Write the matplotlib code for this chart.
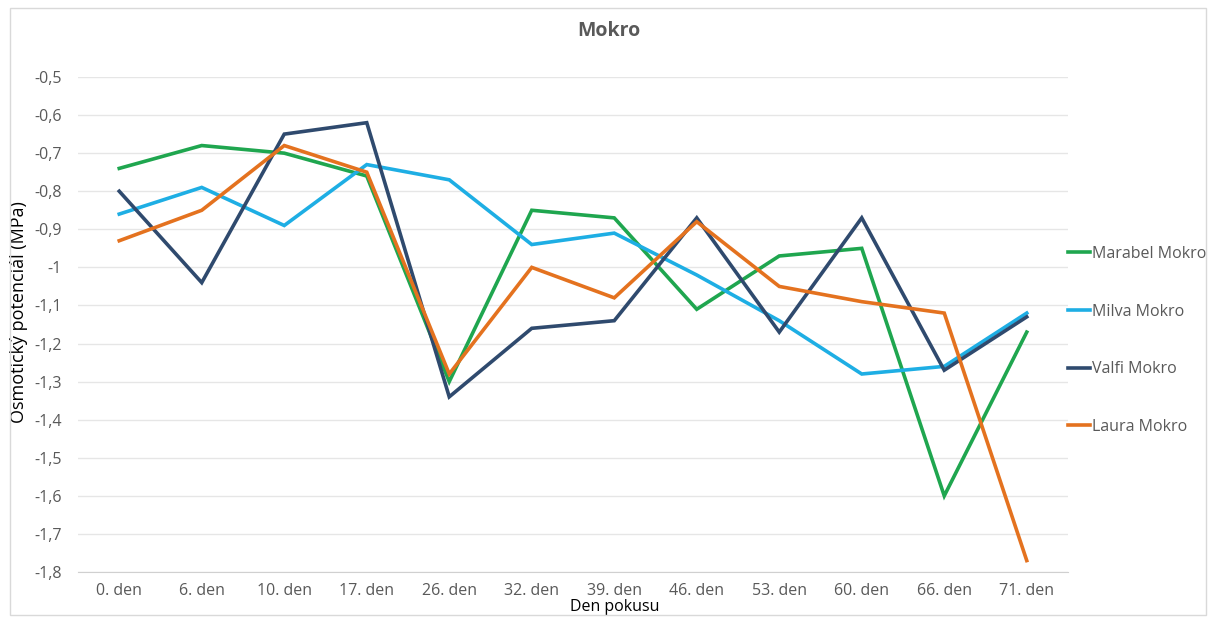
import matplotlib.pyplot as plt
from matplotlib.ticker import FuncFormatter

days = ["0. den", "6. den", "10. den", "17. den", "26. den", "32. den",
        "39. den", "46. den", "53. den", "60. den", "66. den", "71. den"]

marabel = [-0.74, -0.68, -0.70, -0.76, -1.30, -0.85, -0.87, -1.11, -0.97, -0.95, -1.60, -1.17]
milva = [-0.86, -0.79, -0.89, -0.73, -0.77, -0.94, -0.91, -1.02, -1.14, -1.28, -1.26, -1.12]
valfi = [-0.80, -1.04, -0.65, -0.62, -1.34, -1.16, -1.14, -0.87, -1.17, -0.87, -1.27, -1.13]
laura = [-0.93, -0.85, -0.68, -0.75, -1.28, -1.00, -1.08, -0.88, -1.05, -1.09, -1.12, -1.77]

series_names = ["Marabel Mokro", "Milva Mokro", "Valfi Mokro", "Laura Mokro"]
series_colors = ["#1FA64F", "#1EAEE4", "#2F4A6E", "#E4721F"]

plt.rcParams['font.family'] = ['Open Sans', 'DejaVu Sans']
text_color = "#595959"
tick_size = 11.5


def general_number(v, pos=None):
    s = f"{v:.1f}"
    if s.endswith(".0"):
        s = s[:-2]
    return s.replace(".", ",")


fig = plt.figure(figsize=(12.08, 6.23), dpi=100)
ax = fig.add_axes([78 / 1208, 1 - 572 / 623, (1068 - 78) / 1208, (572 - 77) / 623])

x = list(range(len(days)))
for vals, name, col in zip([marabel, milva, valfi, laura], series_names, series_colors):
    ax.plot(x, vals, color=col, lw=2.6, label=name, solid_joinstyle='miter')

ax.set_xlim(-0.5, len(days) - 0.5)
ax.set_ylim(-1.8, -0.5)
ax.set_yticks([-1.8 + 0.1 * i for i in range(14)])
ax.yaxis.set_major_formatter(FuncFormatter(general_number))
ax.set_xticks(x)
ax.set_xticklabels(days)

ax.grid(axis='y', color='#E6E6E6', lw=1)
ax.set_axisbelow(True)
for s in ['top', 'right', 'left']:
    ax.spines[s].set_visible(False)
ax.spines['bottom'].set_color('#D0D0D0')
ax.tick_params(axis='both', length=0, colors=text_color, labelsize=tick_size)
ax.tick_params(axis='y', pad=11.5)
ax.tick_params(axis='x', pad=8)

ax.set_xlabel("Den pokusu", color="black", fontsize=11.5)
ax.xaxis.set_label_coords(0.5424, -0.054)
ax.set_ylabel("Osmotický potenciál (MPa)", color="black", fontsize=13)
ax.yaxis.set_label_coords(-0.0505, 0.526)
fig.text(609 / 1208, 1 - 31 / 623, "Mokro", ha='center', va='center',
         fontsize=14, fontweight='bold', color=text_color)

leg = ax.legend(loc='center left', bbox_to_anchor=(1.0, 0.468), frameon=False,
                handlelength=1.4, handletextpad=0.12, labelspacing=2.6,
                fontsize=tick_size, borderaxespad=0, borderpad=0)
for t in leg.get_texts():
    t.set_color(text_color)

# light outer frame around the chart area
frame = plt.Rectangle((10 / 1208, 1 - 615 / 623), 1196 / 1208, 607 / 623,
                      transform=fig.transFigure, fill=False, ec='#D9D9D9', lw=1)
fig.patches.append(frame)

fig.savefig("out.png", dpi=100)
